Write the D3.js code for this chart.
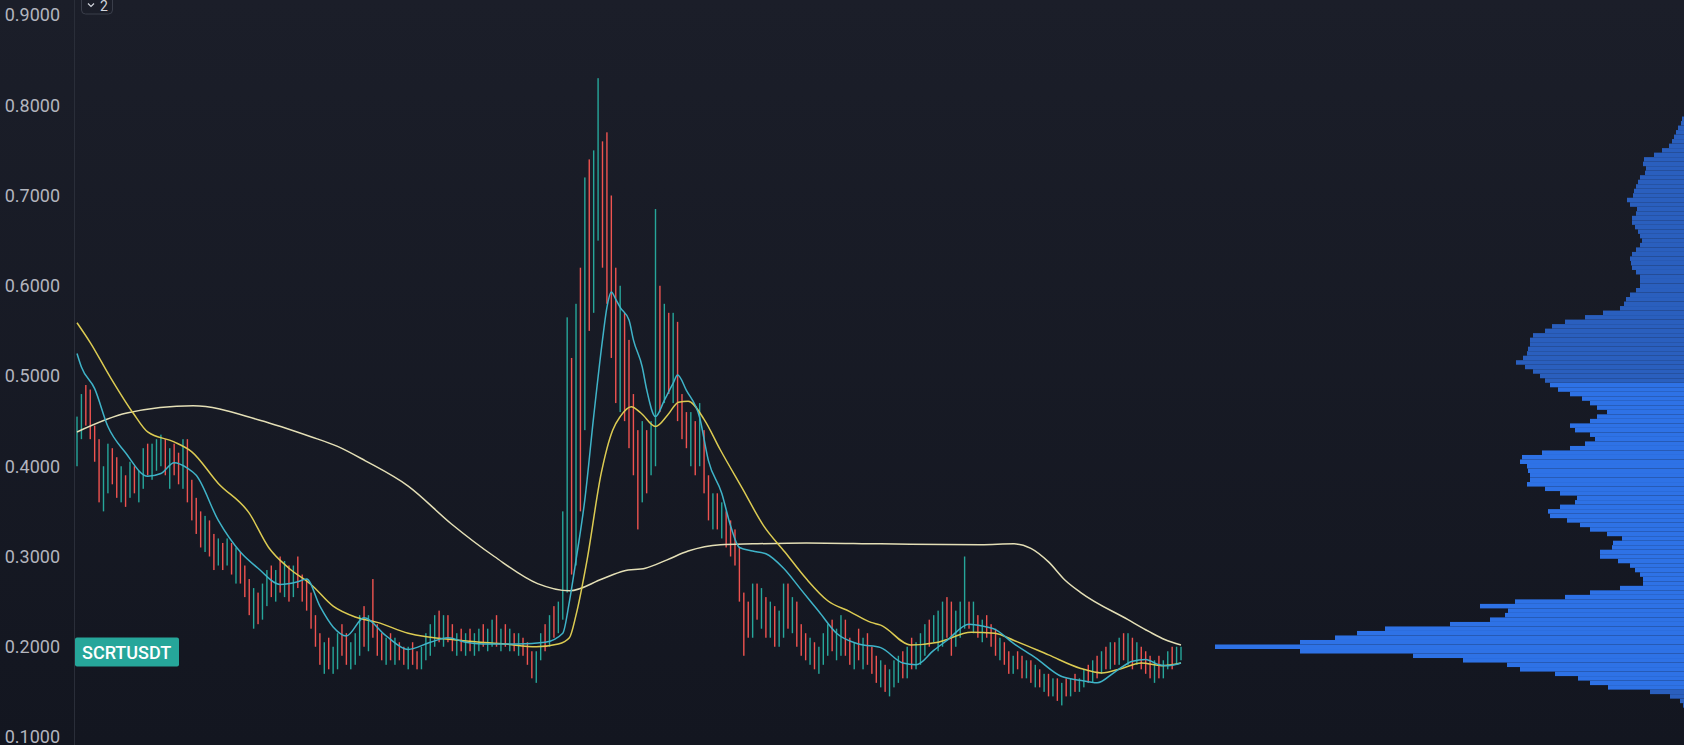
<!DOCTYPE html>
<html>
<head>
<meta charset="utf-8">
<script src="https://d3js.org/d3.v7.min.js"></script>
<style>
  html, body { margin: 0; padding: 0; background: #131722; overflow: hidden; }
</style>
</head>
<body>
<div id="chart"></div>
<script>

// SCRTUSDT candles, oldest first (price in USDT)
var highs = [0.455,0.480,0.490,0.485,0.445,0.430,0.400,0.425,0.420,0.410,0.400,0.390,0.405,0.400,0.395,0.420,0.425,0.425,0.430,0.435,
  0.430,0.420,0.425,0.415,0.430,0.430,0.385,0.365,0.350,0.345,0.340,0.325,0.320,0.315,0.320,0.315,0.310,0.305,0.290,0.275,
  0.265,0.260,0.270,0.285,0.290,0.285,0.300,0.295,0.290,0.290,0.300,0.280,0.275,0.260,0.235,0.215,0.205,0.210,0.200,0.215,
  0.225,0.215,0.205,0.215,0.235,0.245,0.235,0.275,0.225,0.215,0.210,0.215,0.210,0.205,0.200,0.200,0.205,0.195,0.200,0.215,
  0.225,0.235,0.240,0.235,0.235,0.225,0.215,0.220,0.215,0.220,0.215,0.220,0.225,0.220,0.230,0.235,0.220,0.225,0.220,0.215,
  0.215,0.210,0.205,0.195,0.195,0.215,0.225,0.235,0.245,0.250,0.350,0.565,0.520,0.580,0.620,0.720,0.740,0.750,0.830,0.760,
  0.770,0.700,0.620,0.600,0.570,0.540,0.480,0.440,0.450,0.440,0.450,0.685,0.600,0.580,0.570,0.570,0.560,0.480,0.460,0.460,
  0.450,0.470,0.440,0.390,0.370,0.370,0.360,0.350,0.340,0.330,0.310,0.260,0.250,0.270,0.270,0.265,0.255,0.250,0.245,0.240,
  0.270,0.270,0.255,0.250,0.225,0.215,0.210,0.205,0.200,0.215,0.225,0.230,0.220,0.235,0.230,0.210,0.205,0.220,0.210,0.215,
  0.200,0.190,0.185,0.180,0.175,0.185,0.190,0.195,0.200,0.210,0.205,0.215,0.225,0.230,0.235,0.240,0.250,0.255,0.250,0.240,
  0.250,0.300,0.250,0.250,0.235,0.230,0.235,0.225,0.220,0.210,0.205,0.195,0.190,0.195,0.190,0.185,0.185,0.180,0.175,0.170,
  0.170,0.165,0.165,0.160,0.165,0.165,0.170,0.165,0.175,0.180,0.185,0.190,0.195,0.200,0.205,0.205,0.210,0.215,0.215,0.210,
  0.205,0.200,0.195,0.190,0.185,0.190,0.185,0.195,0.200,0.200,0.200]

var lows = [0.400,0.430,0.445,0.430,0.405,0.360,0.350,0.370,0.380,0.365,0.360,0.355,0.365,0.370,0.360,0.375,0.390,0.385,0.395,0.400,
  0.390,0.375,0.390,0.380,0.375,0.360,0.340,0.325,0.310,0.305,0.300,0.285,0.290,0.285,0.290,0.280,0.270,0.270,0.255,0.235,
  0.220,0.225,0.230,0.245,0.255,0.250,0.260,0.255,0.250,0.255,0.265,0.250,0.240,0.220,0.200,0.180,0.170,0.175,0.170,0.175,
  0.190,0.180,0.175,0.180,0.190,0.200,0.195,0.210,0.190,0.185,0.180,0.185,0.180,0.185,0.180,0.175,0.180,0.175,0.175,0.185,
  0.190,0.200,0.205,0.200,0.205,0.195,0.190,0.195,0.190,0.195,0.190,0.195,0.200,0.195,0.200,0.200,0.195,0.200,0.195,0.195,
  0.190,0.190,0.180,0.165,0.160,0.185,0.195,0.200,0.210,0.215,0.230,0.260,0.280,0.290,0.350,0.440,0.550,0.570,0.650,0.620,
  0.580,0.520,0.470,0.460,0.450,0.420,0.390,0.330,0.360,0.370,0.390,0.400,0.460,0.470,0.480,0.470,0.450,0.430,0.420,0.400,
  0.390,0.400,0.370,0.340,0.330,0.330,0.320,0.310,0.300,0.290,0.250,0.190,0.210,0.210,0.230,0.220,0.210,0.210,0.200,0.200,
  0.210,0.220,0.215,0.200,0.190,0.185,0.180,0.175,0.170,0.180,0.190,0.195,0.185,0.190,0.190,0.180,0.175,0.185,0.175,0.180,
  0.170,0.160,0.155,0.150,0.145,0.155,0.160,0.165,0.165,0.175,0.175,0.180,0.190,0.200,0.205,0.195,0.200,0.210,0.190,0.200,
  0.210,0.220,0.220,0.215,0.210,0.205,0.210,0.200,0.190,0.185,0.180,0.170,0.170,0.175,0.165,0.165,0.160,0.155,0.155,0.150,
  0.145,0.145,0.140,0.135,0.145,0.145,0.150,0.150,0.155,0.160,0.160,0.165,0.170,0.175,0.175,0.180,0.180,0.185,0.180,0.175,
  0.180,0.175,0.170,0.165,0.160,0.165,0.165,0.175,0.175,0.180,0.185]

var closes = [0.440,0.470,0.455,0.440,0.415,0.375,0.390,0.415,0.390,0.375,0.385,0.370,0.395,0.380,0.385,0.410,0.400,0.415,0.420,0.425,
  0.405,0.415,0.400,0.395,0.420,0.370,0.350,0.335,0.320,0.335,0.310,0.295,0.310,0.300,0.310,0.290,0.305,0.280,0.265,0.245,
  0.255,0.235,0.260,0.275,0.265,0.280,0.275,0.285,0.260,0.280,0.270,0.260,0.245,0.225,0.210,0.190,0.195,0.180,0.185,0.205,
  0.200,0.190,0.195,0.205,0.225,0.210,0.225,0.220,0.200,0.190,0.200,0.190,0.195,0.190,0.185,0.190,0.185,0.180,0.195,0.205,
  0.215,0.220,0.215,0.225,0.210,0.200,0.205,0.200,0.210,0.200,0.205,0.210,0.205,0.210,0.220,0.205,0.215,0.205,0.210,0.200,
  0.205,0.195,0.185,0.175,0.190,0.210,0.205,0.230,0.220,0.240,0.330,0.520,0.320,0.550,0.480,0.700,0.580,0.720,0.730,0.650,
  0.600,0.560,0.500,0.550,0.470,0.440,0.420,0.380,0.420,0.380,0.440,0.550,0.480,0.550,0.530,0.560,0.470,0.450,0.440,0.450,
  0.410,0.440,0.380,0.355,0.360,0.340,0.350,0.320,0.310,0.300,0.260,0.240,0.225,0.255,0.245,0.255,0.225,0.240,0.215,0.230,
  0.260,0.230,0.245,0.210,0.200,0.190,0.200,0.180,0.190,0.205,0.210,0.200,0.215,0.225,0.195,0.190,0.200,0.195,0.200,0.190,
  0.175,0.165,0.180,0.155,0.170,0.175,0.180,0.170,0.190,0.180,0.195,0.200,0.215,0.210,0.225,0.230,0.245,0.220,0.205,0.230,
  0.245,0.250,0.225,0.235,0.220,0.225,0.215,0.210,0.195,0.200,0.185,0.175,0.185,0.180,0.170,0.180,0.165,0.170,0.160,0.165,
  0.155,0.160,0.150,0.155,0.150,0.160,0.155,0.160,0.170,0.165,0.180,0.175,0.190,0.185,0.200,0.190,0.205,0.190,0.200,0.185,
  0.195,0.180,0.175,0.170,0.175,0.170,0.180,0.190,0.180,0.195,0.198]

// moving averages: [candle index, price]
var maFast = [[0,0.525],[1,0.51],[4,0.486],[7,0.444],[11,0.415],[16,0.389],[19,0.392],[22,0.404],[25,0.398],[27,0.39],
  [32,0.34],[37,0.305],[41,0.287],[46,0.269],[50,0.272],[52,0.275],[55,0.245],[58,0.222],[61,0.212],[65,0.232],
  [70,0.212],[75,0.197],[80,0.205],[84,0.21],[88,0.205],[92,0.203],[100,0.203],[106,0.205],[110,0.215],[111.5,0.25],
  [113,0.296],[115,0.363],[117,0.455],[119,0.54],[120,0.576],[121,0.593],[122,0.585],[123,0.576],[125,0.562],[126,0.54],
  [128,0.51],[129,0.485],[131,0.455],[133,0.473],[135,0.492],[136,0.501],[138,0.484],[141,0.454],[143,0.406],[146,0.37],
  [148,0.334],[150,0.31],[153,0.306],[156,0.303],[160,0.287],[164,0.263],[168,0.239],[172,0.215],[177,0.203],[182,0.199],
  [187,0.182],[190,0.18],[194,0.196],[197,0.207],[202,0.225],[205,0.223],[208,0.219],[212,0.204],[217,0.188],[223,0.167],
  [227,0.163],[231,0.16],[235,0.172],[239,0.184],[242,0.186],[245,0.18],[247,0.179],[250,0.182]]

var maMid = [[0,0.559],[3,0.537],[7.5,0.499],[12.7,0.459],[16,0.438],[22,0.427],[26,0.416],[32,0.381],[39,0.348],[43.4,0.31],
  [48,0.287],[53,0.269],[58,0.245],[63,0.233],[68,0.227],[75,0.215],[87,0.207],[97,0.203],[104,0.2],[109,0.203],
  [111.5,0.21],[113,0.235],[115.5,0.296],[118.7,0.392],[121.3,0.44],[123,0.455],[125.5,0.466],[127.7,0.459],[131,0.444],[133.8,0.457],
  [136.2,0.471],[138.4,0.472],[142,0.452],[145.7,0.418],[150.6,0.376],[155.5,0.334],[160.3,0.305],[165.2,0.275],[170,0.251],[175,0.239],
  [179.8,0.227],[182,0.224],[188.8,0.202],[195,0.205],[202.5,0.216],[207.8,0.215],[212.2,0.207],[220,0.191],[227.3,0.176],[232,0.171],
  [236.6,0.176],[241,0.182],[245.6,0.179],[250,0.182]]

var maSlow = [[0,0.438],[11.3,0.459],[26.3,0.467],[41.4,0.451],[52.8,0.433],[59,0.422],[65.3,0.406],[75,0.378],[84.8,0.336],[94.5,0.3],
  [104.3,0.27],[111.6,0.262],[118.9,0.275],[123.8,0.284],[128.7,0.287],[133.5,0.296],[138.4,0.306],[145.7,0.313],[153,0.314],[165.2,0.315],
  [182,0.314],[204.7,0.313],[212.2,0.314],[216,0.309],[220,0.294],[223.7,0.274],[227.3,0.26],[238,0.23],[242.7,0.217],[246.3,0.208],
  [250,0.202]]

// volume profile, one value per 0.005 price bin starting at 0.135
var profileBase = 0.135
var profileStep = 0.005
var profileVolume = [1,4,14,34,76,94,106,129,164,177,221,271,384,469,384,349,327,299,234,194,
  179,176,204,169,119,94,64,41,41,44,49,54,66,84,84,72,71,62,77,94,
  104,117,134,136,124,109,107,124,139,157,154,154,156,157,164,162,142,114,99,89,
  94,109,114,94,87,77,87,94,102,114,126,134,139,144,151,159,168,161,157,156,
  154,154,151,139,132,119,99,81,64,60,58,54,48,44,44,44,48,52,53,54,
  52,48,44,42,44,46,49,52,52,48,47,54,57,51,50,48,46,44,39,38,
  41,40,30,22,15,12,10,8,6,3,2]
var valueArea = [0.152, 0.492]

var priceTicks = [0.1, 0.2, 0.3, 0.4, 0.5, 0.6, 0.7, 0.8, 0.9]
var symbol = "SCRTUSDT"

var width = 1684
var height = 745

var svg = d3.select("#chart")
  .append("svg")
    .attr("width", width)
    .attr("height", height)

var grad = svg.append("defs").append("linearGradient")
  .attr("id", "bg").attr("x1", 0).attr("y1", 0).attr("x2", 0).attr("y2", 1)
grad.append("stop").attr("offset", "0%").attr("stop-color", "#1b1e29")
grad.append("stop").attr("offset", "100%").attr("stop-color", "#131620")
svg.append("rect").attr("width", width).attr("height", height).attr("fill", "url(#bg)")

var x = d3.scaleLinear().domain([0, closes.length - 1]).range([77, 1181])
var y = d3.scaleLinear().domain([0.1, 0.9]).range([737, 15])

// volume profile on the right edge
var vx = d3.scaleLinear().domain([0, d3.max(profileVolume)]).range([0, 469])
var binH = y(0) - y(profileStep)
svg.append("g")
  .selectAll("rect")
  .data(profileVolume)
  .join("rect")
    .attr("x", function(d){ return width - vx(d) })
    .attr("y", function(d, k){ return y(profileBase + k * profileStep + profileStep / 2) })
    .attr("width", function(d){ return vx(d) })
    .attr("height", binH)
    .attr("fill", function(d, k){
      var p = profileBase + k * profileStep
      return (p >= valueArea[0] && p <= valueArea[1]) ? "#2e72e6" : "#2a5fbe"
    })

// candles (thin, wick and body the same width at this zoom)
var candles = closes.map(function(c, i){
  return { i: i, h: highs[i], l: lows[i], up: i == 0 ? true : c >= closes[i - 1] }
})
svg.append("g")
  .selectAll("rect")
  .data(candles)
  .join("rect")
    .attr("x", function(d){ return x(d.i) - 0.7 })
    .attr("width", 1.4)
    .attr("y", function(d){ return y(d.h) })
    .attr("height", function(d){ return y(d.l) - y(d.h) })
    .attr("fill", function(d){ return d.up ? "#26a69a" : "#ef5350" })

// moving averages
var line = d3.line()
  .x(function(d){ return x(d[0]) })
  .y(function(d){ return y(d[1]) })
  .curve(d3.curveMonotoneX)

svg.append("path").datum(maSlow).attr("d", line)
  .attr("fill", "none").attr("stroke", "#e4dfb6").attr("stroke-width", 1.5)
svg.append("path").datum(maMid).attr("d", line)
  .attr("fill", "none").attr("stroke", "#dccb52").attr("stroke-width", 1.5)
svg.append("path").datum(maFast).attr("d", line)
  .attr("fill", "none").attr("stroke", "#3fb3c8").attr("stroke-width", 1.5)

// price scale on the left
svg.append("line")
  .attr("x1", 74.5).attr("x2", 74.5).attr("y1", 0).attr("y2", height)
  .attr("stroke", "#2a2e39")

var yAxis = d3.axisLeft(y)
  .tickValues(priceTicks)
  .tickFormat(d3.format(".4f"))
  .tickSize(0)
  .tickPadding(14)

svg.append("g")
  .attr("transform", "translate(74,0)")
  .call(yAxis)
  .call(function(g){ g.select(".domain").remove() })
  .selectAll("text")
    .attr("fill", "#b2b5be")
    .style("font-family", "Roboto, 'Open Sans', sans-serif")
    .style("font-size", "18px")

// symbol tag at the last price
var tagY = y(closes[closes.length - 1]) - 11
svg.append("rect")
  .attr("x", 75).attr("y", tagY).attr("width", 104).attr("height", 29).attr("rx", 2)
  .attr("fill", "#26a69a")
svg.append("text")
  .attr("x", 82).attr("y", tagY + 21)
  .attr("fill", "#ffffff")
  .style("font-family", "Roboto, 'Open Sans', sans-serif")
  .style("font-size", "18px")
  .style("font-weight", 500)
  .text(symbol)

// collapsed panes badge
svg.append("rect")
  .attr("x", 81.5).attr("y", -6).attr("width", 31).attr("height", 20).attr("rx", 4)
  .attr("fill", "none").attr("stroke", "#3a3e4a")
svg.append("path")
  .attr("d", "M88,3.5 L91,6.5 L94,3.5")
  .attr("fill", "none").attr("stroke", "#d1d4dc").attr("stroke-width", 1.2)
svg.append("text")
  .attr("x", 100).attr("y", 11)
  .attr("fill", "#d1d4dc")
  .style("font-family", "Roboto, sans-serif")
  .style("font-size", "14px")
  .text("2")

</script>
</body>
</html>
